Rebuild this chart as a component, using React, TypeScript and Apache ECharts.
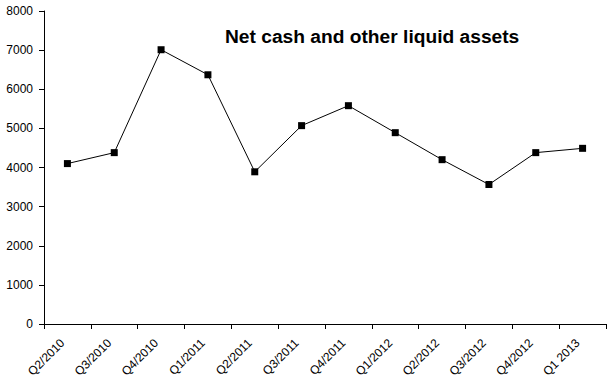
import React, { useEffect, useRef } from "react";
import * as echarts from "echarts";

const categories = [
  "Q2/2010", "Q3/2010", "Q4/2010", "Q1/2011", "Q2/2011", "Q3/2011",
  "Q4/2011", "Q1/2012", "Q2/2012", "Q3/2012", "Q4/2012", "Q1 2013",
];
const values = [4100, 4380, 7010, 6370, 3890, 5070, 5580, 4890, 4200, 3565, 4380, 4490];
const yMin = 0;
const yMax = 8000;
const yInterval = 1000;
const titleText = "Net cash and other liquid assets";

export default function App() {
  const ref = useRef<HTMLDivElement>(null);
  useEffect(() => {
    if (!ref.current) return;
    const chart = echarts.init(ref.current, null, { renderer: "svg" });
    chart.setOption({
      animation: false,
      backgroundColor: "#ffffff",
      title: {
        text: titleText,
        left: 225,
        top: 27,
        padding: 0,
        textStyle: { fontFamily: "Liberation Sans, Arial", fontWeight: "bold", fontSize: 19.2, color: "#000" },
      },
      grid: { left: 44, right: 9, top: 11, bottom: 59 },
      xAxis: {
        type: "category",
        data: categories,
        boundaryGap: true,
        axisLine: { lineStyle: { color: "#000", width: 1 } },
        axisTick: { show: true, length: 5, lineStyle: { color: "#000" } },
        axisLabel: {
          rotate: 45,
          margin: 12,
          padding: [0, 7, 0, 0],
          interval: 0,
          fontFamily: "Liberation Sans, Arial",
          fontSize: 12,
          color: "#000",
        },
        splitLine: { show: false },
      },
      yAxis: {
        type: "value",
        min: yMin,
        max: yMax,
        interval: yInterval,
        axisLine: { show: true, lineStyle: { color: "#000", width: 1 } },
        axisTick: { show: true, length: 5, lineStyle: { color: "#000" } },
        axisLabel: {
          margin: 11,
          fontFamily: "Liberation Sans, Arial",
          fontSize: 12,
          color: "#000",
          formatter: (v: number) => String(v),
        },
        splitLine: { show: false },
      },
      series: [
        {
          type: "line",
          data: values,
          symbol: "rect",
          symbolSize: 7,
          lineStyle: { color: "#000", width: 1 },
          itemStyle: { color: "#000" },
        },
      ],
    });
    return () => chart.dispose();
  }, []);
  return <div ref={ref} style={{ width: 615, height: 383, position: "absolute", left: 0, top: 0 }} />;
}
